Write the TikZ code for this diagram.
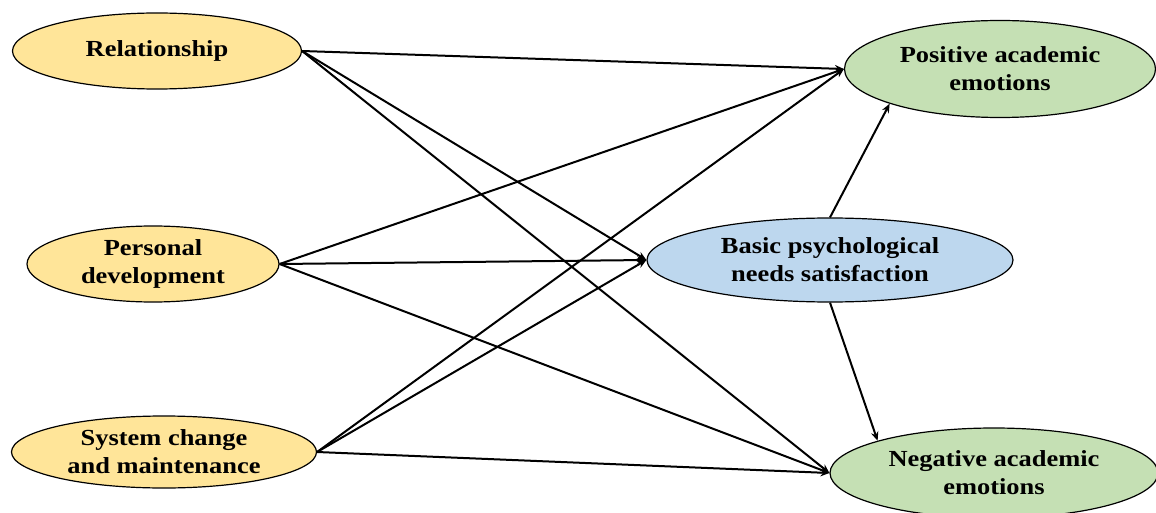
\documentclass[tikz,border=0pt]{standalone}
\usepackage{fontspec}
\setmainfont[FakeStretch=1.15]{Liberation Serif}
\usetikzlibrary{shapes.geometric,arrows.meta}
\definecolor{ylw}{RGB}{255,229,153}
\definecolor{grn}{RGB}{197,224,180}
\definecolor{blu}{RGB}{189,215,238}

\begin{document}
\begin{tikzpicture}[x=1pt,y=-1pt,>={Stealth[length=9pt,width=7.5pt]},
  var/.style={ellipse,draw,line width=1.2pt,inner sep=0pt,align=center,
    font=\fontsize{23}{28}\selectfont\bfseries},
  link/.style={->,line width=2pt}]
\useasboundingbox (0,0) rectangle (1156,513);
% predictors
\node[var,fill=ylw,minimum width=289pt,minimum height=76pt] (rel) at (157,51) {Relationship};
\node[var,fill=ylw,minimum width=252pt,minimum height=76pt] (pers) at (153,264) {Personal\\development};
\node[var,fill=ylw,minimum width=305pt,minimum height=72pt] (sys) at (164,452) {System change\\and maintenance};
% mediator and outcomes
\node[var,fill=blu,minimum width=366pt,minimum height=84pt] (bpn) at (830,260) {Basic psychological\\needs satisfaction};
\node[var,fill=grn,minimum width=311pt,minimum height=97pt] (pos) at (1000,69) {Positive academic\\emotions};
\node[var,fill=grn,minimum width=328pt,minimum height=90pt] (neg) at (994,473) {Negative academic\\emotions};
% paths
\foreach \s in {rel,pers,sys}{
  \draw[link](\s.east)--(pos.west);
  \draw[link](\s.east)--(bpn.west);
  \draw[link](\s.east)--(neg.west);
}
\draw[link](bpn.north)--(pos.south west);
\draw[link](bpn.south)--(neg.north west);
\end{tikzpicture}
\end{document}
